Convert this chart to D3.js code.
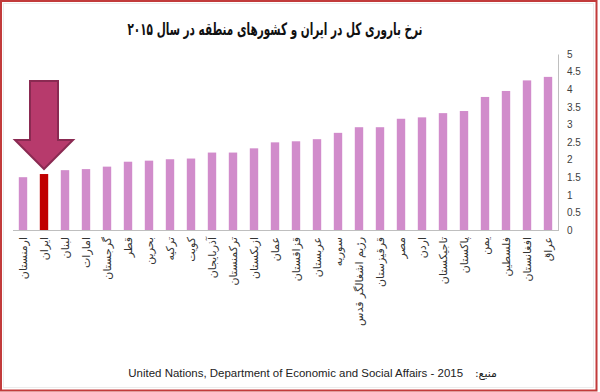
<!DOCTYPE html>
<html><head><meta charset="utf-8">
<script src="https://cdn.jsdelivr.net/npm/d3@7"></script>
<style>html,body{margin:0;padding:0;background:#fff;} svg{display:block;}</style>
</head><body><svg id="c" width="600" height="392"></svg>
<script>
const titleText = "نرخ باروری کل در ایران و کشورهای منطقه در سال ۲۰۱۵";
const categories = ["ارمنستان","ایران","لبنان","امارات","گرجستان","قطر","بحرین","ترکیه","کویت","آذربایجان","ترکمنستان","ازبکستان","عمان","قزاقستان","عربستان","سوریه","رژیم اشغالگر قدس","قرقیزستان","مصر","اردن","تاجیکستان","پاکستان","یمن","فلسطین","افغانستان","عراق"];
const values = [1.50,1.59,1.70,1.73,1.80,1.94,1.97,2.01,2.03,2.20,2.20,2.32,2.49,2.52,2.58,2.76,2.92,2.92,3.16,3.20,3.32,3.38,3.78,3.95,4.25,4.35];
const highlighted = "ایران";
const yTickValues = [0,0.5,1,1.5,2,2.5,3,3.5,4,4.5,5];
const sourceLabel = "منبع:";
const sourceText = "United Nations, Department of Economic and Social Affairs - 2015";

const svg = d3.select("#c");
svg.append("rect").attr("width",600).attr("height",392).attr("fill","#fff");
svg.append("rect").attr("x",3.5).attr("y",3.5).attr("width",590).attr("height",384)
  .attr("fill","none").attr("stroke","#ececec").attr("stroke-width",1);
svg.append("rect").attr("x",1).attr("y",1).attr("width",595.5).attr("height",389.5)
  .attr("fill","none").attr("stroke","#c23b3b").attr("stroke-width",2);

const x = d3.scaleBand().domain(categories).range([12.5,558.5]).paddingInner(0.6).paddingOuter(0.3);
const y = d3.scaleLinear().domain([0,5]).range([230,54]);

// title
const title = svg.append("text").attr("x",275).attr("y",35).attr("text-anchor","middle")
  .attr("font-family","DejaVu Sans").attr("font-weight","bold").attr("font-size",17)
  .attr("fill","#111").text(titleText);
let tl = title.node().getComputedTextLength();
if (tl > 295) title.attr("textLength",295).attr("lengthAdjust","spacingAndGlyphs");

// bars
svg.append("g").selectAll("rect").data(categories).join("rect")
  .attr("x", d => x(d)).attr("width", x.bandwidth())
  .attr("y", (d,i) => y(values[i])).attr("height", (d,i) => y(0)-y(values[i]))
  .attr("fill", d => d === highlighted ? "#c00000" : "#d18ccb");

// y axis (right)
const ya = svg.append("g").attr("transform","translate(558,0)")
  .call(d3.axisRight(y).tickValues(yTickValues).tickSizeInner(0).tickSizeOuter(0).tickPadding(9).tickFormat(d => String(d)));
ya.select(".domain").attr("stroke","#bfbfbf");
ya.selectAll("text").attr("font-family","Liberation Sans").attr("font-size",10).attr("fill","#404040");

// x axis
const xa = svg.append("g").attr("transform",`translate(0,${y(0)})`)
  .call(d3.axisBottom(x).tickSizeInner(0).tickSizeOuter(0));
xa.select(".domain").attr("stroke","#bfbfbf");
xa.selectAll("text")
  .attr("x",0).attr("y",0).attr("dy","0.35em")
  .attr("transform","translate(0,7) rotate(-90)")
  .attr("text-anchor","end")
  .attr("font-family","DejaVu Sans").attr("font-size",11).attr("fill","#333");

// arrow pointing at highlighted bar
const hi = categories.indexOf(highlighted);
const cx = x(highlighted) + x.bandwidth()/2;
const tipY = y(values[hi]) - 5;
const arrowPts = [[0,0],[-29,-29],[-14,-29],[-14,-88],[14,-88],[14,-29],[29,-29]];
svg.append("path")
  .attr("d", d3.line()(arrowPts.map(p => [cx+p[0], tipY+p[1]])) + "Z")
  .attr("fill","#b73a6c").attr("stroke","#8a2a52").attr("stroke-width",2).attr("stroke-linejoin","miter");

// source
svg.append("text").attr("x",497).attr("y",377).attr("direction","rtl")
  .attr("text-anchor","start").attr("font-family","DejaVu Sans").attr("font-size",11).attr("fill","#222")
  .text(sourceLabel);
const src = svg.append("text").attr("x",463).attr("y",377).attr("text-anchor","end")
  .attr("font-family","Liberation Sans").attr("font-size",11.5).attr("fill","#222").text(sourceText);
let sl = src.node().getComputedTextLength();
if (sl > 0) src.attr("font-size", 11.5*335/sl);
</script></body></html>
